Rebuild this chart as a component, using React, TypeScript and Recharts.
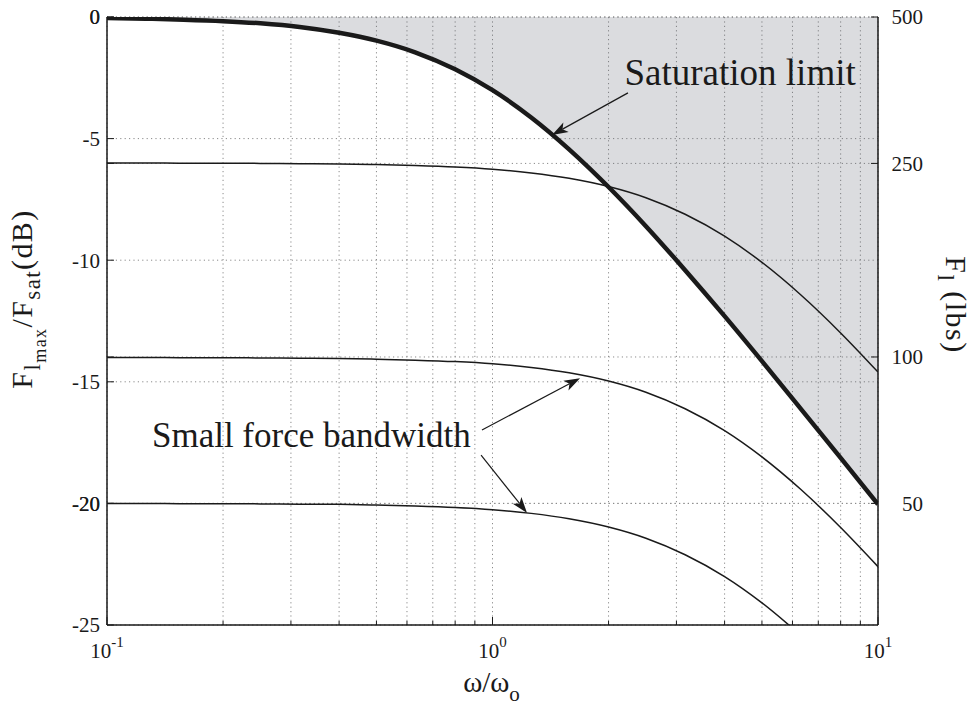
import React from "react";
import {
  ComposedChart,
  Line,
  Area,
  XAxis,
  YAxis,
  CartesianGrid,
  ReferenceLine,
  ReferenceDot,
} from "recharts";

// frequency ratio w/w0 (log spaced) and curves in dB
const omega = [0.1, 0.126, 0.158, 0.2, 0.25, 0.316, 0.4, 0.5, 0.63, 0.8, 1, 1.26, 1.58, 2, 2.5, 3.16, 4, 5, 6.3, 8, 10];
const saturationDb = [-0.04, -0.07, -0.11, -0.17, -0.26, -0.41, -0.65, -0.97, -1.45, -2.15, -3.01, -4.13, -5.44, -6.99, -8.6, -10.41, -12.3, -14.15, -16.1, -18.13, -20.04];
const bandwidth6Db = [-6.0, -6.0, -6.01, -6.01, -6.02, -6.03, -6.04, -6.07, -6.11, -6.17, -6.26, -6.41, -6.63, -6.97, -7.43, -8.11, -9.01, -10.09, -11.42, -12.99, -14.6];
const bandwidth14Db = [-14.0, -14.0, -14.01, -14.01, -14.02, -14.03, -14.04, -14.07, -14.11, -14.17, -14.26, -14.41, -14.63, -14.97, -15.43, -16.11, -17.01, -18.09, -19.42, -20.99, -22.6];
const bandwidth20Db = [-20.0, -20.0, -20.01, -20.01, -20.02, -20.03, -20.04, -20.07, -20.11, -20.17, -20.26, -20.41, -20.63, -20.97, -21.43, -22.11, -23.01, -24.09, -25.42, null, null];

// axis ticks
const xTicks = [0.1, 0.2, 0.3, 0.4, 0.5, 0.6, 0.7, 0.8, 0.9, 1, 2, 3, 4, 5, 6, 7, 8, 9, 10];
const xDecades = [0.1, 1, 10];
const xDecadeExp = ["-1", "0", "1"];
const leftTicks = [0, -5, -10, -15, -20, -25];
const rightTickLbs = [500, 250, 100, 50];

// annotations: [x, y] in data units
const satLabelAt = [2.2, -2.8];
const satArrow = [[2.246, -3.12], [1.427, -4.85]];
const bwLabelAt = [0.1308, -17.68];
const bwArrowUpper = [[0.939, -16.98], [1.687, -14.85]];
const bwArrowLower = [[0.934, -18.01], [1.229, -20.39]];

const toDb = (lbs: number) => 20 * Math.log10(lbs / 500);
const rightTicks = rightTickLbs.map(toDb);
const leftGridTicks = [...leftTicks, ...rightTicks].sort((a, b) => b - a);

const data = omega.map((w, i) => ({
  w,
  sat: saturationDb[i],
  satBand: [saturationDb[i], 0],
  bw6: bandwidth6Db[i],
  bw14: bandwidth14Db[i],
  bw20: bandwidth20Db[i],
}));

const FONT = '"Liberation Serif", "DejaVu Serif", serif';
const INK = "#1a1a1a";
const txt = { fontFamily: FONT, fill: INK };

const BottomTick = (props: any) => {
  const { x, y, payload } = props;
  const idx = xDecades.indexOf(payload.value);
  const major = idx >= 0;
  return (
    <g>
      <line x1={x} x2={x} y1={y} y2={y - (major ? 8 : 4)} stroke={INK} strokeWidth={1} />
      {major && (
        <text x={x} y={y + 33} textAnchor="middle" style={{ ...txt, fontSize: 21 }}>
          10
          <tspan dy={-11} style={{ fontSize: 15 }}>{xDecadeExp[idx]}</tspan>
        </text>
      )}
    </g>
  );
};

const TopTick = (props: any) => {
  const { x, y, payload } = props;
  const major = xDecades.includes(payload.value);
  return <line x1={x} x2={x} y1={y} y2={y + (major ? 8 : 4)} stroke={INK} strokeWidth={1} />;
};

const LeftTick = (props: any) => {
  const { x, y, payload } = props;
  const v = payload.value;
  const labelled = leftTicks.includes(v);
  return (
    <g>
      <line x1={x} x2={x + 7} y1={y} y2={y} stroke={INK} strokeWidth={1} />
      {labelled && (
        <text x={x - 7} y={y} dy="0.35em" textAnchor="end" style={{ ...txt, fontSize: 21 }}>
          {v}
        </text>
      )}
    </g>
  );
};

const RightTick = (props: any) => {
  const { x, y, index } = props;
  return (
    <g>
      <line x1={x} x2={x - 7} y1={y} y2={y} stroke={INK} strokeWidth={1} />
      <text x={x + 45} y={y} dy="0.35em" textAnchor="end" style={{ ...txt, fontSize: 21 }}>
        {rightTickLbs[index]}
      </text>
    </g>
  );
};

const LeftAxisLabel = (props: any) => {
  const vb = props.viewBox;
  const cy = vb.y + vb.height / 2 - 22;
  return (
    <text transform={`translate(32, ${cy}) rotate(-90)`} x={0} y={0} textAnchor="middle" style={{ ...txt, fontSize: 30, letterSpacing: 1.4 }}>
      F
      <tspan dy={8} style={{ fontSize: 23 }}>l</tspan>
      <tspan dy={6} style={{ fontSize: 18 }}>max</tspan>
      <tspan dy={-14}>/F</tspan>
      <tspan dy={8} style={{ fontSize: 23 }}>sat</tspan>
      <tspan dy={-8}>(dB)</tspan>
    </text>
  );
};

const RightAxisLabel = (props: any) => {
  const vb = props.viewBox;
  const cy = vb.y + vb.height / 2 - 16;
  return (
    <text transform={`translate(946, ${cy}) rotate(90)`} x={0} y={0} textAnchor="middle" style={{ ...txt, fontSize: 30, letterSpacing: 1.5 }}>
      F
      <tspan dy={8} style={{ fontSize: 23 }}>l</tspan>
      <tspan dy={-8}> (lbs)</tspan>
    </text>
  );
};

const BottomAxisLabel = (props: any) => {
  const vb = props.viewBox;
  return (
    <text x={vb.x + vb.width / 2 - 1} y={692} textAnchor="middle" style={{ ...txt, fontSize: 29 }}>
      ω/ω
      <tspan dy={9} style={{ fontSize: 21 }}>o</tspan>
    </text>
  );
};

const ArrowShape = (props: any) => {
  const { x1, y1, x2, y2 } = props;
  const a = Math.atan2(y2 - y1, x2 - x1);
  const c = Math.cos(a);
  const s = Math.sin(a);
  const len = 16;
  const half = 5.5;
  const bx = x2 - len * c;
  const by = y2 - len * s;
  const nx = x2 - len * 0.75 * c;
  const ny = y2 - len * 0.75 * s;
  const pts = [
    [x2, y2],
    [bx - half * s, by + half * c],
    [nx, ny],
    [bx + half * s, by - half * c],
  ]
    .map((p) => p.join(","))
    .join(" ");
  return (
    <g>
      <line x1={x1} y1={y1} x2={nx} y2={ny} stroke={INK} strokeWidth={1.2} />
      <polygon points={pts} fill={INK} stroke="none" />
    </g>
  );
};

const textShape = (label: string, size: number) => (props: any) => (
  <text x={props.cx} y={props.cy} style={{ ...txt, fontSize: size }}>
    {label}
  </text>
);

const seg = (pts: number[][]) => pts.map(([x, y]) => ({ x, y }));

export default function App() {
  return (
    <div style={{ width: 979, height: 708, background: "#fff" }}>
      <style>{"body{margin:0}"}</style>
      <ComposedChart width={979} height={708} data={data} margin={{ top: 17, right: 0, bottom: 0, left: 0 }}>
        <CartesianGrid stroke="#8a8a8a" strokeDasharray="1.2 3.2" strokeWidth={1} />
        <XAxis
          dataKey="w"
          type="number"
          scale="log"
          domain={[0.1, 10]}
          ticks={xTicks}
          allowDataOverflow
          height={83}
          tickSize={0}
          tickMargin={0}
          tick={<BottomTick />}
          stroke={INK}
          strokeWidth={1.5}
          interval={0}
          label={<BottomAxisLabel />}
        />
        <XAxis
          xAxisId="top"
          orientation="top"
          dataKey="w"
          type="number"
          scale="log"
          domain={[0.1, 10]}
          ticks={xTicks}
          allowDataOverflow
          height={0}
          tickSize={0}
          tickMargin={0}
          tick={<TopTick />}
          stroke={INK}
          strokeWidth={1.5}
          interval={0}
        />
        <YAxis
          type="number"
          domain={[-25, 0]}
          ticks={leftGridTicks}
          allowDataOverflow
          width={107}
          tickSize={0}
          tickMargin={0}
          tick={<LeftTick />}
          stroke={INK}
          strokeWidth={1.5}
          interval={0}
          label={<LeftAxisLabel />}
        />
        <YAxis
          yAxisId="right"
          orientation="right"
          type="number"
          domain={[-25, 0]}
          ticks={rightTicks}
          allowDataOverflow
          width={101}
          tickSize={0}
          tickMargin={0}
          tick={<RightTick />}
          stroke={INK}
          strokeWidth={1.5}
          interval={0}
          label={<RightAxisLabel />}
        />
        <Area
          dataKey="satBand"
          type="monotone"
          stroke="none"
          fill="#5a5f6e"
          fillOpacity={0.22}
          isAnimationActive={false}
          activeDot={false}
        />
        <Line dataKey="bw6" type="monotone" stroke={INK} strokeWidth={1.5} dot={false} activeDot={false} isAnimationActive={false} />
        <Line dataKey="bw14" type="monotone" stroke={INK} strokeWidth={1.5} dot={false} activeDot={false} isAnimationActive={false} />
        <Line dataKey="bw20" type="monotone" stroke={INK} strokeWidth={1.5} dot={false} activeDot={false} isAnimationActive={false} />
        <Line dataKey="sat" type="monotone" stroke={INK} strokeWidth={4.5} dot={false} activeDot={false} isAnimationActive={false} />
        <ReferenceLine segment={seg(satArrow)} ifOverflow="visible" shape={ArrowShape} />
        <ReferenceLine segment={seg(bwArrowUpper)} ifOverflow="visible" shape={ArrowShape} />
        <ReferenceLine segment={seg(bwArrowLower)} ifOverflow="visible" shape={ArrowShape} />
        <ReferenceDot x={satLabelAt[0]} y={satLabelAt[1]} r={0} ifOverflow="visible" shape={textShape("Saturation limit", 37)} />
        <ReferenceDot x={bwLabelAt[0]} y={bwLabelAt[1]} r={0} ifOverflow="visible" shape={textShape("Small force bandwidth", 35)} />
      </ComposedChart>
    </div>
  );
}
